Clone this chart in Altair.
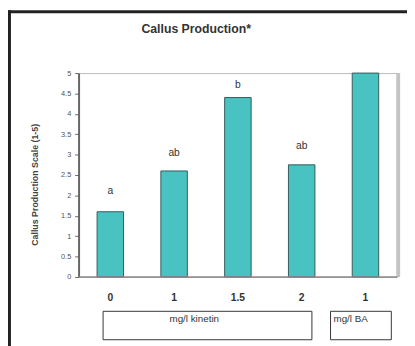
import altair as alt
import pandas as pd

# Data
cats = ["k0", "k1", "k1.5", "k2", "BA1"]
tick_labels = ["0", "1", "1.5", "2", "1"]
values = [1.6, 2.6, 4.4, 2.75, 5.0]
letters = ["a", "ab", "b", "ab", ""]
letter_pos = [2.1, 3.05, 4.7, 3.2, 5.0]
y_ticks = [0, 0.5, 1, 1.5, 2, 2.5, 3, 3.5, 4, 4.5, 5]

df = pd.DataFrame({
    "cat": cats,
    "label": tick_labels,
    "value": values,
    "letter": letters,
    "lpos": letter_pos,
})

W, H = 325, 208
FONT = "Liberation Sans"

xscale = alt.Scale(domain=cats, paddingInner=0.585, paddingOuter=0.29)
yscale = alt.Scale(domain=[0, 5], nice=False)

yaxis = alt.Axis(
    values=y_ticks,
    format="~g",
    title=None,
    grid=False,
    domainColor="#666666",
    domainWidth=2,
    tickColor="#666666",
    tickSize=4,
    labelFontSize=7.5,
    labelColor="#555555",
    labelFont=FONT,
    labelPadding=4,
    labelOverlap=False,
    labelFlush=False,
)

base = alt.Chart(df)

bars = base.mark_bar(fill="#49C2C2", stroke="#2F5B5B", strokeWidth=1).encode(
    x=alt.X("cat:N", scale=xscale, axis=None, sort=cats),
    y=alt.Y("value:Q", scale=yscale, axis=yaxis),
)

letter_text = base.mark_text(
    font=FONT, fontSize=10.5, color="#333333", baseline="middle"
).encode(
    x=alt.X("cat:N", scale=xscale, sort=cats, axis=None),
    y=alt.Y("lpos:Q", scale=yscale, axis=yaxis),
    text="letter:N",
)

xlabels = base.mark_text(
    font=FONT, fontSize=10.5, fontWeight="bold", color="#333333", baseline="middle"
).encode(
    x=alt.X("cat:N", scale=xscale, sort=cats, axis=None),
    y=alt.value(229),
    text="label:N",
)

# decorations
deco = pd.DataFrame({"k": [0]})
d = alt.Chart(deco)

right_edge = d.mark_rule(color="#c4c4c4", strokeWidth=4).encode(
    x=alt.value(W + 1), y=alt.value(0), y2=alt.value(H)
)
bottom_edge = d.mark_rule(color="#888888", strokeWidth=1.5).encode(
    x=alt.value(0), x2=alt.value(W), y=alt.value(H)
)

frame_top = d.mark_rule(color="#222222", strokeWidth=3).encode(
    x=alt.value(-72), x2=alt.value(340), y=alt.value(-62.5)
)
frame_left = d.mark_rule(color="#222222", strokeWidth=3).encode(
    x=alt.value(-70.5), y=alt.value(-64), y2=alt.value(280)
)

title = d.mark_text(
    text="Callus Production*", font=FONT, fontSize=12.5, fontWeight="bold",
    color="#333333", baseline="middle", align="center"
).encode(x=alt.value(120), y=alt.value(-45))

ytitle = d.mark_text(
    text="Callus Production Scale (1-5)", font=FONT, fontSize=9, fontWeight="bold",
    color="#444444", baseline="middle", align="center", angle=270
).encode(x=alt.value(-44), y=alt.value(114))

box1 = d.mark_rect(fill="white", stroke="#333333", strokeWidth=1).encode(
    x=alt.value(25), x2=alt.value(238), y=alt.value(243), y2=alt.value(272)
)
box2 = d.mark_rect(fill="white", stroke="#333333", strokeWidth=1).encode(
    x=alt.value(257), x2=alt.value(319), y=alt.value(243), y2=alt.value(272)
)
box1_text = d.mark_text(
    text="mg/l kinetin", font=FONT, fontSize=10, color="#333333",
    baseline="middle", align="center"
).encode(x=alt.value(118), y=alt.value(251))
box2_text = d.mark_text(
    text="mg/l BA", font=FONT, fontSize=10, color="#333333",
    baseline="middle", align="left"
).encode(x=alt.value(260), y=alt.value(251))

chart = alt.layer(
    bars, letter_text, xlabels, right_edge, bottom_edge, frame_top, frame_left,
    title, ytitle, box1, box2, box1_text, box2_text
).properties(
    width=W,
    height=H,
    autosize=alt.AutoSizeParams(type="none"),
    padding={"left": 72, "top": 63, "right": 10, "bottom": 67},
    background="white",
).configure_view(
    stroke="#bbbbbb", strokeWidth=1
)

chart.save("out.html", embed_options={"renderer": "svg", "actions": False})
